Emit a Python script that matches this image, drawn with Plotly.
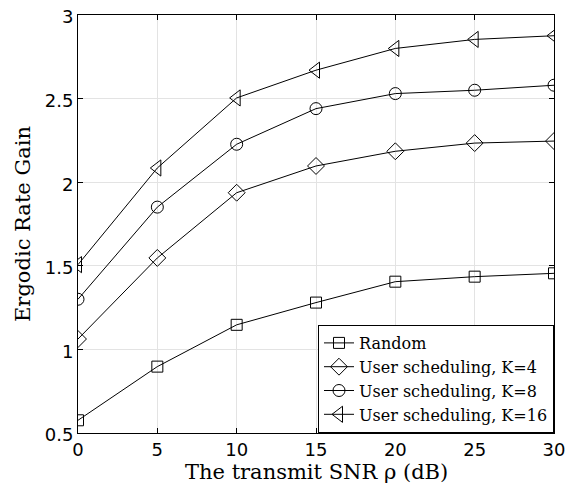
import plotly.graph_objects as go

snr = [0, 5, 10, 15, 20, 25, 30]
random_vals = [0.576, 0.897, 1.147, 1.28, 1.405, 1.435, 1.455]
k4_vals = [1.062, 1.547, 1.937, 2.097, 2.185, 2.234, 2.246]
k8_vals = [1.30, 1.851, 2.227, 2.44, 2.53, 2.55, 2.58]
k16_vals = [1.507, 2.085, 2.504, 2.67, 2.80, 2.854, 2.876]

names = ["Random", "User scheduling, K=4", "User scheduling, K=8", "User scheduling, K=16"]
series = [random_vals, k4_vals, k8_vals, k16_vals]
symbols = ["square-open", "diamond-open", "circle-open", "triangle-left-open"]
sizes = [11, 13, 12, 14]

fig = go.Figure()
for n, v, s, sz in zip(names, series, symbols, sizes):
    fig.add_trace(go.Scatter(
        x=snr, y=v, name=n, mode="lines+markers",
        line=dict(color="black", width=1),
        marker=dict(symbol=s, size=sz, color="black", line=dict(width=1, color="black")),
    ))

axis_common = dict(
    showline=True, linecolor="black", linewidth=1, mirror="allticks",
    ticks="inside", ticklen=5, tickcolor="black", automargin=False,
    ticklabeloverflow="allow",
    showgrid=True, gridcolor="#e3e3e3", gridwidth=1, zeroline=False,
    tickfont=dict(family="DejaVu Sans, sans-serif", size=18, color="black"),
)

serif = "DejaVu Serif, serif"

# page body has an 8px default margin; the figure is sized to fit inside it
fig.update_layout(
    width=559, height=475,
    margin=dict(l=70, r=13, t=7, b=50),
    paper_bgcolor="white", plot_bgcolor="white",
    xaxis=dict(range=[0, 30], tickvals=snr, **axis_common),
    yaxis=dict(range=[0.5, 3], tickvals=[0.5, 1, 1.5, 2, 2.5, 3], ticktext=["0.5", "1", "1.5", "2", "2.5", "3"],
               ticklabelshift=2,
               **axis_common,
               title=dict(text="Ergodic Rate Gain", standoff=8,
                          font=dict(family=serif, size=21, color="black"))),
    legend=dict(x=1, y=0, xanchor="right", yanchor="bottom",
                bgcolor="white", bordercolor="black", borderwidth=1,
                font=dict(family=serif, size=16, color="black"),
                itemwidth=30, tracegroupgap=0),
    showlegend=True,
)

fig.add_annotation(
    text="The transmit SNR ρ (dB)", xref="paper", yref="paper", x=0.5, y=0,
    xanchor="center", yanchor="middle", yshift=-39, showarrow=False,
    font=dict(family=serif, size=21, color="black"),
)

fig.write_html("out.html")
